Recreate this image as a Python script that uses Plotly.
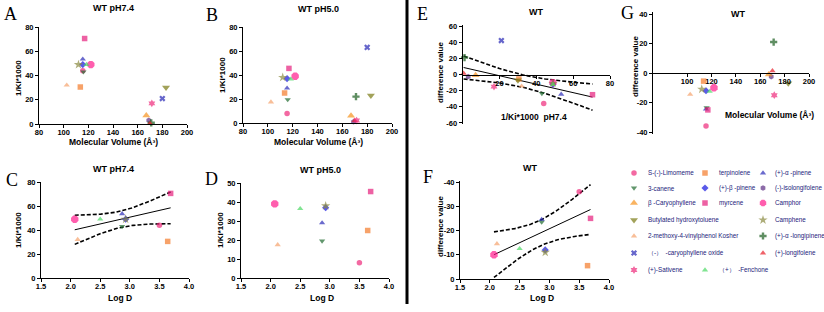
import numpy as np
import plotly.graph_objects as go

# ---------------- data ----------------
compounds = ["S-(-)-Limomeme", "terpinolene", "(+)-α -pinene", "3-canene", "(+)-β -pinene",
             "(-)-isolongifolene", "β -Caryophyllene", "myrcene", "Camphor", "Butylated hydroxytoluene",
             "Camphene", "2-methoxy-4-vinylphenol Kosher", "(+)-α -longipinene",
             "（-）  -caryophyllene oxide", "(+)-longifolene", "(+)-Sativene", "（+）  -Fenchone"]
mol_volume = [115.5, 113.5, 115.5, 116, 115.5, 169, 167, 117, 122, 183, 112, 102.5, 171, 180, 170, 171.5, 118.5]
ki_ph74 = [44, 30.5, 53.5, 43, 49, 3, 7, 70.5, 49, 30, 49, 32, 1, 21, 0.5, 17, 49]
ki_ph50 = [8, 25, 29, 19.5, 37, 1, 6, 45.5, 39, 23, 38, 17.5, 22, 63, 2, 2, 36.5]
log_d = [3.50, 3.64, 2.87, 2.87, 2.93, None, None, 3.69, 2.07, None, 2.93, 2.12, None, None, None, None, 2.50]
diff_value = [-36, -5.5, -24.5, -23.5, -12, -2.5, -1, -25, -10, -7, -11, -14.5, 21, 42, 1.5, -15, -12.5]
logd_fit_excluded = ["terpinolene"]

# ---------------- styles ----------------
symbols = ["circle", "square", "triangle-up", "triangle-down", "diamond", "hexagon", "triangle-up",
           "square", "octagon", "triangle-down", "star", "triangle-up", "cross", "x", "triangle-up",
           "hexagram", "triangle-up"]
colors = ["#EE2A7B", "#F47A2A", "#2B2BB8", "#1F6B2F", "#1414E0", "#5B2C83", "#F7931E", "#E61E7C",
          "#FF1A8C", "#7A7A14", "#8A8A40", "#F5A36C", "#1B5E20", "#2525B5", "#E8202A", "#EE2A7B",
          "#4CD964"]
sizes = [5.5, 5.5, 5.5, 5.5, 5.5, 5.5, 7, 5.5, 8, 7, 7, 5.5, 6, 5.5, 5.5, 6, 5.5]
# legend grid (row, column) for each compound
legend_slots = [(0, 0), (0, 1), (0, 2), (1, 0), (1, 1), (1, 2), (2, 0), (2, 1), (2, 2), (3, 0),
                (3, 2), (4, 0), (4, 2), (5, 0), (5, 2), (6, 0), (6, 1)]
legend_row_y = [173, 188, 203, 220, 236, 253, 270]
legend_col_marker_x = [634, 705, 763]
legend_col_text_x = [646, 717, 773]

W, H = 824, 312
def fx(p): return p / W
def fy(p): return 1 - p / H

FONT = "Liberation Sans"
T95 = {7: 2.365, 8: 2.306, 15: 2.131}

def fit_band(x, y, n=80):
    x = np.asarray(x, float); y = np.asarray(y, float)
    k, b = np.polyfit(x, y, 1)
    xs = np.linspace(x.min(), x.max(), n)
    yh = k * xs + b
    res = y - (k * x + b)
    s = np.sqrt(np.sum(res ** 2) / (len(x) - 2))
    sxx = np.sum((x - x.mean()) ** 2)
    se = s * np.sqrt(1 / len(x) + (xs - x.mean()) ** 2 / sxx)
    t = T95[len(x) - 2]
    return xs, yh, yh + t * se, yh - t * se

fig = go.Figure()

def add_points(xv, yv, idx, xa, ya):
    fig.add_trace(go.Scatter(
        x=[xv[i] for i in idx], y=[yv[i] for i in idx], mode="markers", xaxis=xa, yaxis=ya,
        cliponaxis=False, showlegend=False, hoverinfo="skip",
        marker=dict(symbol=[symbols[i] for i in idx], color=[colors[i] for i in idx],
                    size=[sizes[i] for i in idx], line=dict(width=0))))

def add_fit(x, y, xa, ya):
    xs, yh, up, lo = fit_band(x, y)
    for yy, dash, w in [(up, "4px,2px", 1.6), (lo, "4px,2px", 1.6), (yh, "solid", 1)]:
        fig.add_trace(go.Scatter(x=xs, y=yy, mode="lines", xaxis=xa, yaxis=ya, showlegend=False,
                                 hoverinfo="skip", cliponaxis=False,
                                 line=dict(color="black", width=w, dash=dash)))

all_idx = list(range(len(compounds)))
logd_idx = [i for i in all_idx if log_d[i] is not None]
fit_idx = [i for i in logd_idx if compounds[i] not in logd_fit_excluded]

add_points(mol_volume, ki_ph74, all_idx, "x", "y")
add_points(mol_volume, ki_ph50, all_idx, "x2", "y2")
add_fit([log_d[i] for i in fit_idx], [ki_ph74[i] for i in fit_idx], "x3", "y3")
add_points(log_d, ki_ph74, logd_idx, "x3", "y3")
add_points(log_d, ki_ph50, logd_idx, "x4", "y4")
add_fit(ki_ph74, diff_value, "x5", "y5")
add_points(ki_ph74, diff_value, all_idx, "x5", "y5")
add_fit([log_d[i] for i in fit_idx], [diff_value[i] for i in fit_idx], "x6", "y6")
add_points(log_d, diff_value, logd_idx, "x6", "y6")
add_points(mol_volume, diff_value, all_idx, "x7", "y7")

# legend markers on a pixel-space overlay axis
fig.add_trace(go.Scatter(
    x=[legend_col_marker_x[legend_slots[i][1]] for i in all_idx],
    y=[legend_row_y[legend_slots[i][0]] for i in all_idx], mode="markers", xaxis="x8", yaxis="y8",
    showlegend=False, hoverinfo="skip", cliponaxis=False,
    marker=dict(symbol=symbols, color=colors, size=[min(s, 7) for s in sizes], line=dict(width=0))))

def axis(dom, rng, **kw):
    d = dict(domain=dom, range=rng, showline=True, linecolor="black", linewidth=1, ticks="outside",
             ticklen=3, tickwidth=1, tickcolor="black", showgrid=False, zeroline=False,
             tickfont=dict(family=FONT, size=7.5, color="black", weight="bold"), fixedrange=True)
    d.update(kw)
    return d

def xaxis(dom, rng, **kw):
    return axis(dom, rng, ticklabelstandoff=-2, **kw)

layout = dict(width=W, height=H, autosize=False, margin=dict(l=0, r=0, t=0, b=0, autoexpand=False),
              paper_bgcolor="white", plot_bgcolor="rgba(0,0,0,0)", showlegend=False)

mv_ticks = [80, 100, 120, 140, 160, 180, 200]
layout["xaxis"] = xaxis([fx(39), fx(187)], [80, 200], tickvals=mv_ticks, anchor="y")
layout["yaxis"] = axis([fy(124), fy(27)], [0, 80], tickvals=[0, 20, 40, 60, 80], anchor="x")
layout["xaxis2"] = xaxis([fx(243), fx(392)], [80, 200], tickvals=mv_ticks, anchor="y2")
layout["yaxis2"] = axis([fy(123), fy(27)], [0, 80], tickvals=[0, 20, 40, 60, 80], anchor="x2")
ld_ticks = [1.5, 2.0, 2.5, 3.0, 3.5, 4.0]
ld_text = ["1.5", "2.0", "2.5", "3.0", "3.5", "4.0"]
layout["xaxis3"] = xaxis([fx(41), fx(189)], [1.5, 4.0], tickvals=ld_ticks, ticktext=ld_text, anchor="y3")
layout["yaxis3"] = axis([fy(278), fy(182)], [0, 80], tickvals=[0, 20, 40, 60, 80], anchor="x3")
layout["xaxis4"] = xaxis([fx(241), fx(389)], [1.5, 4.0], tickvals=ld_ticks, ticktext=ld_text, anchor="y4")
layout["yaxis4"] = axis([fy(278), fy(183)], [0, 50], tickvals=[0, 10, 20, 30, 40, 50], anchor="x4")
e_y = [-60, -40, -20, 0, 20, 40, 60]
layout["xaxis5"] = xaxis([fx(462.7), fx(610)], [0, 80], tickvals=[20, 40, 60, 80], anchor="free",
                         position=fy(74.5))
layout["yaxis5"] = axis([fy(123.8), fy(25.2)], [-61, 61], tickvals=e_y,
                        ticktext=[str(v) for v in e_y], anchor="x5")
f_y = [-40, -30, -20, -10, 0]
layout["xaxis6"] = xaxis([fx(460), fx(609)], [1.5, 4.0], tickvals=ld_ticks, ticktext=ld_text, anchor="y6")
layout["yaxis6"] = axis([fy(279), fy(180.8)], [0, -40.5], tickvals=f_y,
                        ticktext=[str(v) for v in f_y], anchor="x6")
g_y = [-40, -20, 0, 20, 40]
layout["xaxis7"] = xaxis([fx(653), fx(809)], [72, 200], tickvals=[100, 120, 140, 160, 180, 200],
                         anchor="free", position=fy(72.7))
layout["yaxis7"] = axis([fy(133.5), fy(11.8)], [-41, 41.5], tickvals=g_y,
                        ticktext=[str(v) for v in g_y], anchor="x7")
layout["xaxis8"] = dict(domain=[0, 1], range=[0, W], visible=False, fixedrange=True, anchor="y8")
layout["yaxis8"] = dict(domain=[0, 1], range=[H, 0], visible=False, fixedrange=True, anchor="x8")

ann = []
def text(s, x, y, size=8, bold=True, family=FONT, angle=0, xanchor="center", color="black"):
    ann.append(dict(text=s, x=fx(x), y=fy(y), xref="paper", yref="paper", showarrow=False,
                    xanchor=xanchor, yanchor="middle", textangle=angle,
                    font=dict(family=family, size=size, color=color, weight="bold" if bold else "normal")))

for L, x, y in [("A", 10, 14), ("B", 212, 15), ("C", 12, 180), ("D", 211, 179),
                ("E", 422, 14), ("F", 428, 177), ("G", 627, 13)]:
    text(L, x, y, size=18, bold=False, family="Liberation Serif")
for s, x, y in [("WT pH7.4", 113, 8), ("WT pH5.0", 318, 9), ("WT pH7.4", 113, 169),
                ("WT pH5.0", 320, 170), ("WT", 536, 12), ("WT", 530, 168), ("WT", 738, 14)]:
    text(s, x, y, size=9)
mvt = "Molecular Volume (Å³)"
for s, x, y in [(mvt, 113, 142), (mvt, 318, 142), ("Log D", 120, 298), ("Log D", 322, 298),
                ("Log D", 542, 298), ("1/Ki*1000  pH7.4", 534, 117), (mvt, 769, 115)]:
    text(s, x, y, size=8.5)
for s, x, y in [("1/Ki*1000", 18, 78), ("1/Ki*1000", 222, 75), ("1/Ki*1000", 18, 230),
                ("1/Ki*1000", 220, 230), ("difference value", 440, 73), ("difference value", 440, 227),
                ("difference value", 635, 67)]:
    text(s, x, y, size=8, angle=-90)
for i in all_idx:
    r, c = legend_slots[i]
    text(compounds[i], legend_col_text_x[c], legend_row_y[r], size=6.3, bold=False, xanchor="left",
         color="#22227A")
layout["annotations"] = ann

layout["shapes"] = [dict(type="line", xref="paper", yref="paper", x0=fx(407), x1=fx(407),
                         y0=fy(0), y1=fy(304), line=dict(color="black", width=3))]

fig.update_layout(**layout)
fig.write_html("out.html", config={"displayModeBar": False},
               post_script="document.body.style.margin='0px';document.body.style.overflow='hidden';")
